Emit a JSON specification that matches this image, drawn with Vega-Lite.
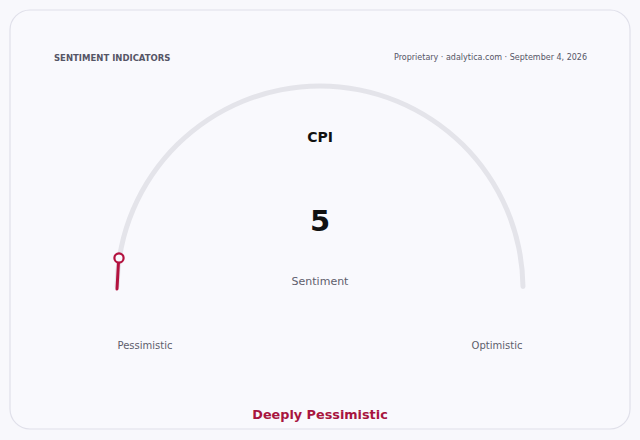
{
  "$schema": "https://vega.github.io/schema/vega-lite/v6.json",
  "width": 640,
  "height": 440,
  "autosize": {"type": "fit", "contains": "padding"},
  "padding": 0,
  "background": "#f8f8fc",
  "config": {
    "view": {"stroke": null},
    "font": "DejaVu Sans",
    "text": {"font": "DejaVu Sans"}
  },
  "encoding": {
    "x": {"type": "quantitative", "scale": {"domain": [-320, 320]}, "axis": null},
    "y": {"type": "quantitative", "scale": {"domain": [-151, 289]}, "axis": null}
  },
  "layer": [
    {
      "data": {"values": [{"x": -310, "x2": 310, "y": 279, "y2": -140}]},
      "mark": {"type": "rect", "fill": "#f9f9fd", "stroke": "#e0e0ea", "strokeWidth": 1.2, "cornerRadius": 20},
      "encoding": {
        "x": {"field": "x", "type": "quantitative"},
        "x2": {"field": "x2"},
        "y": {"field": "y", "type": "quantitative"},
        "y2": {"field": "y2"}
      }
    },
    {
      "data": {"values": [{"cx": 0, "cy": 0, "min": 0, "max": 100}]},
      "mark": {"type": "arc", "radius": 205.5, "radius2": 200.5, "color": "#e4e4ea", "cornerRadius": 2.5},
      "encoding": {
        "x": {"field": "cx", "type": "quantitative"},
        "y": {"field": "cy", "type": "quantitative"},
        "theta": {"field": "min", "type": "quantitative", "scale": {"domain": [0, 100], "range": [-1.5708, 1.5708]}},
        "theta2": {"field": "max"}
      }
    },
    {
      "data": {"values": [{"x": -203, "y": 0, "x2": -201.5, "y2": 27}]},
      "mark": {"type": "rule", "color": "#b3123f", "strokeWidth": 3, "strokeCap": "round"},
      "encoding": {
        "x": {"field": "x", "type": "quantitative"},
        "y": {"field": "y", "type": "quantitative"},
        "x2": {"field": "x2"},
        "y2": {"field": "y2"}
      }
    },
    {
      "data": {"values": [{"x": -201, "y": 31, "value": 5}]},
      "mark": {"type": "point", "shape": "circle", "size": 85, "filled": true, "fill": "#f9f9fd", "stroke": "#b3123f", "strokeWidth": 2.2, "opacity": 1},
      "encoding": {
        "x": {"field": "x", "type": "quantitative"},
        "y": {"field": "y", "type": "quantitative"}
      }
    },
    {
      "data": {"values": [{"x": 0, "y": 151, "label": "CPI"}]},
      "mark": {"type": "text", "fontSize": 14, "fontWeight": "bold", "color": "#111111", "baseline": "middle"},
      "encoding": {
        "x": {"field": "x", "type": "quantitative"},
        "y": {"field": "y", "type": "quantitative"},
        "text": {"field": "label"}
      }
    },
    {
      "data": {"values": [{"x": 0, "y": 67, "value": 5}]},
      "mark": {"type": "text", "fontSize": 29, "fontWeight": "bold", "color": "#111111", "baseline": "middle"},
      "encoding": {
        "x": {"field": "x", "type": "quantitative"},
        "y": {"field": "y", "type": "quantitative"},
        "text": {"field": "value"}
      }
    },
    {
      "data": {"values": [{"x": 0, "y": 7, "label": "Sentiment"}]},
      "mark": {"type": "text", "fontSize": 11, "color": "#5e5e6c", "baseline": "middle"},
      "encoding": {
        "x": {"field": "x", "type": "quantitative"},
        "y": {"field": "y", "type": "quantitative"},
        "text": {"field": "label"}
      }
    },
    {
      "data": {"values": [{"x": -175, "y": -57, "label": "Pessimistic"}, {"x": 177, "y": -57, "label": "Optimistic"}]},
      "mark": {"type": "text", "fontSize": 10, "color": "#5e5e6c", "baseline": "middle"},
      "encoding": {
        "x": {"field": "x", "type": "quantitative"},
        "y": {"field": "y", "type": "quantitative"},
        "text": {"field": "label"}
      }
    },
    {
      "data": {"values": [{"x": 0, "y": -126, "label": "Deeply Pessimistic"}]},
      "mark": {"type": "text", "fontSize": 12.8, "fontWeight": "bold", "color": "#a8153f", "baseline": "middle"},
      "encoding": {
        "x": {"field": "x", "type": "quantitative"},
        "y": {"field": "y", "type": "quantitative"},
        "text": {"field": "label"}
      }
    },
    {
      "data": {"values": [{"x": -266, "y": 231, "label": "SENTIMENT INDICATORS"}]},
      "mark": {"type": "text", "fontSize": 8.5, "fontWeight": "bold", "color": "#555566", "align": "left", "baseline": "middle"},
      "encoding": {
        "x": {"field": "x", "type": "quantitative"},
        "y": {"field": "y", "type": "quantitative"},
        "text": {"field": "label"}
      }
    },
    {
      "data": {"values": [{"x": 267, "y": 231, "label": "Proprietary · adalytica.com · September 4, 2026"}]},
      "mark": {"type": "text", "fontSize": 8, "color": "#555566", "align": "right", "baseline": "middle"},
      "encoding": {
        "x": {"field": "x", "type": "quantitative"},
        "y": {"field": "y", "type": "quantitative"},
        "text": {"field": "label"}
      }
    }
  ]
}
